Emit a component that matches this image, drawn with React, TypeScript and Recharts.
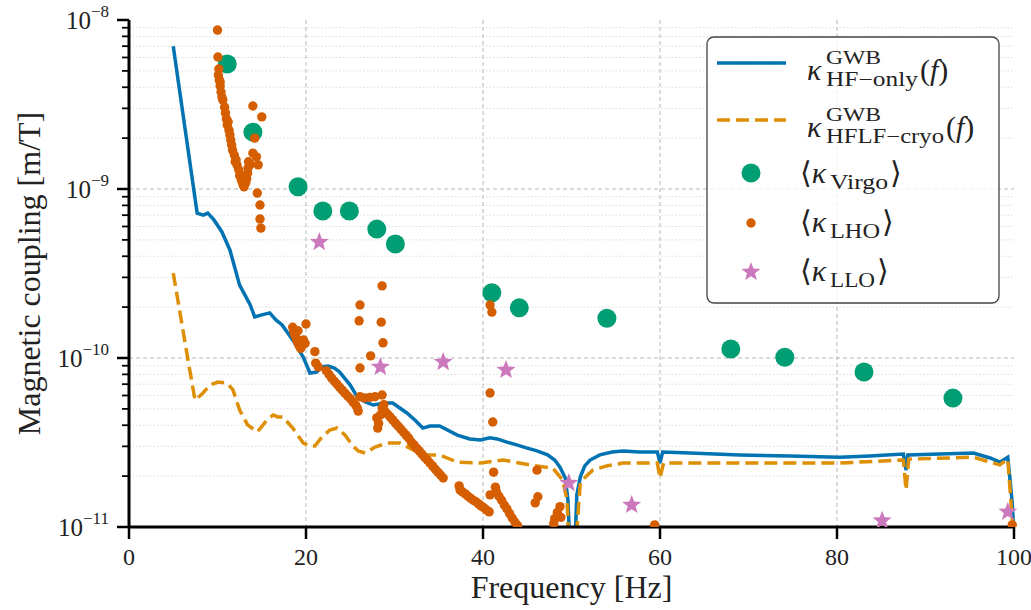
import { CartesianGrid, ComposedChart, Legend, Line, Scatter, XAxis, YAxis } from 'recharts';

const FONT = '"Liberation Serif", "Times New Roman", Tinos, "DejaVu Serif", "Noto Serif", FreeSerif, serif';

// projected coupling functions, [frequency Hz, coupling m/T]
const hfOnly: [number, number][] = [
  [5.0, 7.0e-9], [7.7, 7.2e-10], [8.4, 7.0e-10], [8.9, 7.2e-10], [9.6, 6.56e-10], [10.5, 5.57e-10],
  [11.4, 4.36e-10], [12.5, 2.7e-10], [13.7, 2.06e-10], [14.2, 1.75e-10], [15.0, 1.8e-10], [15.9, 1.85e-10],
  [16.6, 1.68e-10], [17.3, 1.57e-10], [18.5, 1.28e-10], [19.7, 1.01e-10], [20.45, 8.15e-11], [21.2, 8.26e-11],
  [21.8, 8.85e-11], [22.5, 8.97e-11], [23.2, 8.73e-11], [23.8, 8.26e-11], [25.0, 6.92e-11], [25.8, 5.87e-11],
  [26.7, 5.49e-11], [27.6, 5.27e-11], [28.9, 5.42e-11], [29.8, 5.42e-11], [30.6, 5.06e-11], [31.4, 4.73e-11],
  [32.3, 4.3e-11], [33.2, 3.85e-11], [34.0, 3.96e-11], [35.1, 3.96e-11], [37.1, 3.5e-11], [38.5, 3.32e-11],
  [39.7, 3.27e-11], [40.8, 3.37e-11], [41.6, 3.32e-11], [42.7, 3.18e-11], [43.8, 3.06e-11], [45.0, 2.93e-11],
  [46.1, 2.82e-11], [47.3, 2.67e-11], [48.1, 2.49e-11], [48.7, 2.26e-11], [49.3, 1.95e-11], [49.6, 1.44e-11],
  [49.8, 8e-12], [50.4, 8e-12], [50.6, 1.55e-11], [51.0, 1.98e-11], [51.5, 2.3e-11], [52.1, 2.49e-11],
  [53.2, 2.67e-11], [54.6, 2.78e-11], [55.8, 2.82e-11], [57.7, 2.78e-11], [59.7, 2.78e-11], [60.0, 2.39e-11],
  [60.3, 2.78e-11], [63.4, 2.74e-11], [69.0, 2.67e-11], [74.7, 2.63e-11], [80.3, 2.59e-11], [83.7, 2.63e-11],
  [87.5, 2.7e-11], [87.8, 2.17e-11], [88.0, 2.67e-11], [91.6, 2.7e-11], [95.4, 2.74e-11], [97.3, 2.56e-11],
  [98.4, 2.42e-11], [99.3, 2.59e-11], [99.8, 1.39e-11], [100, 9e-12],
];

const hflfCryo: [number, number][] = [
  [5.0, 3.18e-10], [6.67, 9.72e-11], [7.46, 5.63e-11], [8.36, 6.21e-11], [9.15, 6.92e-11], [10.06, 7.21e-11],
  [11.07, 7.11e-11], [11.75, 6.47e-11], [12.5, 4.92e-11], [13.4, 4.02e-11], [14.5, 3.65e-11], [15.6, 4.3e-11],
  [16.3, 4.6e-11], [16.8, 4.48e-11], [17.4, 4.48e-11], [18.5, 3.85e-11], [19.7, 3.14e-11], [20.45, 3.01e-11],
  [21.0, 3.01e-11], [21.8, 3.41e-11], [22.7, 3.75e-11], [23.5, 3.85e-11], [24.4, 3.5e-11], [25.2, 3.06e-11],
  [25.9, 2.82e-11], [26.7, 2.74e-11], [27.8, 2.97e-11], [29.2, 3.14e-11], [30.6, 3.14e-11], [32.1, 2.86e-11],
  [33.4, 2.67e-11], [35.1, 2.67e-11], [37.1, 2.42e-11], [39.7, 2.39e-11], [42.3, 2.49e-11], [45.3, 2.33e-11],
  [47.9, 2.23e-11], [49.0, 1.9e-11], [49.5, 1.44e-11], [49.7, 8e-12], [50.5, 8e-12], [51.0, 1.85e-11],
  [52.4, 2.17e-11], [54.0, 2.3e-11], [55.8, 2.39e-11], [59.7, 2.39e-11], [60.0, 1.95e-11], [60.4, 2.39e-11],
  [69.0, 2.39e-11], [80.3, 2.39e-11], [87.5, 2.49e-11], [87.8, 1.66e-11], [88.1, 2.52e-11], [95.4, 2.59e-11],
  [98.4, 2.33e-11], [99.3, 2.52e-11], [99.8, 1.1e-11], [100, 9e-12],
];

// measured couplings
const virgo: [number, number][] = [
  [11.1, 5.49e-9], [14.0, 2.17e-9], [19.1, 1.03e-9], [21.9, 7.41e-10], [24.9, 7.41e-10], [28.0, 5.79e-10],
  [30.1, 4.73e-10], [41.0, 2.43e-10], [44.1, 1.98e-10], [54.0, 1.72e-10], [68.0, 1.13e-10], [74.1, 1.01e-10],
  [83.05, 8.26e-11], [93.1, 5.79e-11],
];

const llo: [number, number][] = [
  [21.5, 4.85e-10], [28.4, 8.85e-11], [35.5, 9.46e-11], [42.6, 8.49e-11], [49.7, 1.82e-11], [56.8, 1.35e-11],
  [85.1, 1.09e-11], [99.3, 1.23e-11],
];

const lho: [number, number][] = [
  [10.0, 8.72e-9], [10.05, 6.04e-9], [10.15, 5.13e-9], [10.1, 4.73e-9],
  [10.2, 4.42e-9], [10.3, 4.07e-9], [10.4, 3.75e-9], [10.6, 3.36e-9], [10.8, 3.05e-9], [10.9, 2.82e-9],
  [11.0, 2.6e-9], [11.1, 2.39e-9], [11.3, 2.23e-9], [11.4, 2.09e-9], [11.5, 1.95e-9], [11.6, 1.82e-9],
  [11.7, 1.7e-9], [11.9, 1.59e-9], [12.1, 1.49e-9], [12.2, 1.39e-9], [12.4, 1.3e-9], [12.6, 1.21e-9],
  [12.7, 1.13e-9], [12.9, 1.06e-9], [13.0, 1.03e-9], [13.2, 1.09e-9], [13.3, 1.15e-9], [13.4, 1.24e-9],
  [13.45, 1.33e-9], [13.5, 1.45e-9], [13.7, 1.4e-9], [14.0, 1.63e-9], [14.4, 1.55e-9], [14.6, 1.39e-9],
  [10.3, 4.3e-9], [10.5, 3.5e-9], [11.2, 2.5e-9], [12.0, 1.45e-9], [12.5, 1.2e-9], [12.8, 1.1e-9],
  [14.0, 3.1e-9], [15.0, 2.67e-9], [14.2, 2.0e-9], [14.5, 9.46e-10], [14.8, 8.04e-10], [14.8, 6.64e-10],
  [14.9, 5.87e-10],
  [18.5, 1.52e-10], [18.6, 1.45e-10], [18.7, 1.38e-10], [18.9, 1.31e-10], [19.0, 1.25e-10], [19.2, 1.19e-10],
  [19.4, 1.14e-10], [19.6, 1.19e-10], [19.7, 1.28e-10], [19.9, 1.22e-10], [19.1, 1.45e-10], [20.0, 1.59e-10],
  [21.0, 1.09e-10], [21.1, 9.33e-11], [21.4, 8.85e-11],
  [22.3, 8.4e-11], [22.6, 8.0e-11], [22.9, 7.6e-11], [23.2, 7.3e-11], [23.5, 7.0e-11], [23.8, 6.7e-11],
  [24.1, 6.45e-11], [24.4, 6.2e-11], [24.7, 5.96e-11], [25.0, 5.75e-11], [25.3, 5.5e-11], [25.6, 5.27e-11],
  [25.8, 5.06e-11], [25.9, 4.85e-11],
  [26.1, 5.9e-11], [26.6, 5.8e-11], [27.2, 5.85e-11], [27.8, 5.9e-11], [28.0, 4.42e-11], [28.1, 3.85e-11],
  [28.6, 6.04e-11],
  [26.1, 2.06e-10], [26.0, 1.66e-10], [28.5, 1.63e-10], [28.6, 2.67e-10], [28.7, 1.23e-10], [27.3, 1.03e-10],
  [26.1, 8.73e-11],
  [28.2, 4.1e-11], [28.4, 4.6e-11], [28.8, 5.3e-11],
  [28.6, 5.06e-11], [28.9, 4.85e-11], [29.2, 4.66e-11], [29.5, 4.48e-11], [29.8, 4.3e-11], [30.1, 4.12e-11],
  [30.4, 3.96e-11], [30.7, 3.8e-11], [31.0, 3.65e-11], [31.3, 3.5e-11], [31.6, 3.36e-11], [31.9, 3.18e-11],
  [32.2, 3.06e-11], [32.5, 2.93e-11], [32.8, 2.82e-11], [33.1, 2.7e-11], [33.4, 2.59e-11], [33.7, 2.49e-11],
  [34.0, 2.39e-11], [34.3, 2.3e-11], [34.6, 2.2e-11], [34.9, 2.11e-11], [35.2, 2.03e-11], [35.5, 1.95e-11],
  [37.3, 1.75e-11], [37.4, 1.66e-11], [37.7, 1.61e-11], [38.0, 1.57e-11], [38.3, 1.52e-11], [38.6, 1.48e-11],
  [38.9, 1.44e-11], [39.2, 1.41e-11], [39.5, 1.37e-11], [39.8, 1.33e-11], [40.1, 1.3e-11], [40.4, 1.26e-11],
  [40.7, 1.23e-11],
  [40.8, 2.06e-10], [41.0, 1.87e-10], [40.8, 6.21e-11], [41.1, 4.18e-11], [41.2, 2.11e-11], [41.4, 1.72e-11],
  [40.8, 1.55e-11],
  [41.5, 1.62e-11], [41.8, 1.52e-11], [42.1, 1.44e-11], [42.4, 1.35e-11], [42.7, 1.28e-11], [43.0, 1.2e-11],
  [43.3, 1.13e-11], [43.6, 1.07e-11], [43.9, 1.02e-11],
  [46.1, 2.17e-11], [46.2, 1.51e-11], [45.9, 1.39e-11], [48.7, 1.32e-11], [48.1, 1.12e-11], [48.8, 1.14e-11],
  [48.4, 1.22e-11], [48.0, 1.05e-11],
  [59.4, 1.03e-11], [99.8, 1.03e-11],
];

const xTicks = [0, 20, 40, 60, 80, 100];
const xTickLabels = ['0', '20', '40', '60', '80', '100'];
const yDecades = [1e-11, 1e-10, 1e-9, 1e-8];
const yDecadeLabels = ['−11', '−10', '−9', '−8'];
const yMinors = [
  2e-11, 3e-11, 4e-11, 5e-11, 6e-11, 7e-11, 8e-11, 9e-11,
  2e-10, 3e-10, 4e-10, 5e-10, 6e-10, 7e-10, 8e-10, 9e-10,
  2e-9, 3e-9, 4e-9, 5e-9, 6e-9, 7e-9, 8e-9, 9e-9,
];
const yTicks = [...yDecades, ...yMinors].sort((a, b) => a - b);

const COLORS = {
  hfOnly: '#0173b2',
  cryo: '#de8f05',
  virgo: '#029e73',
  lho: '#d55e00',
  llo: '#cc78bc',
};

const rows = (pts: [number, number][]) => pts.map(([f, k]) => ({ f, k }));

function starPoints(cx: number, cy: number, R: number, r: number) {
  const pts: string[] = [];
  for (let i = 0; i < 10; i++) {
    const rad = i % 2 === 0 ? R : r;
    const a = -Math.PI / 2 + (i * Math.PI) / 5;
    pts.push(`${cx + rad * Math.cos(a)},${cy + rad * Math.sin(a)}`);
  }
  return pts.join(' ');
}

function YTick({ x, y, payload }: any) {
  const i = yDecades.indexOf(payload.value);
  const major = i >= 0;
  const len = major ? 12 : 7;
  return (
    <g>
      <line x1={x - len} x2={x} y1={y} y2={y} stroke="#000" strokeWidth={major ? 2.5 : 1.8} />
      {major && (
        <text x={x - 20} y={y + 9} textAnchor="end" fontFamily={FONT} fontSize={25} fill="#222">
          10<tspan dy={-12} fontSize={17}>{yDecadeLabels[i]}</tspan>
        </text>
      )}
    </g>
  );
}

function XTick({ x, y, payload }: any) {
  const i = xTicks.indexOf(payload.value);
  return (
    <g>
      <line x1={x} x2={x} y1={y} y2={y + 12} stroke="#000" strokeWidth={2.5} />
      <text x={x} y={y + 38} textAnchor="middle" fontFamily={FONT} fontSize={24} fill="#222">
        {xTickLabels[i]}
      </text>
    </g>
  );
}

// one math-style legend label: main symbol, stacked super/subscripts, trailing text
function MathLabel({ y, sup, sub, subW, tail, tailX, bracket }: any) {
  const t = { fontFamily: FONT, fill: '#222' };
  const sx = bracket ? 124 : 120;
  return (
    <g>
      <text x={bracket ? 94 : 101} y={y} fontSize={30} {...t}>
        {bracket ? '⟨' : ''}<tspan fontStyle="italic">κ</tspan>
      </text>
      {sup && <text x={sx} y={y - 16} fontSize={19} textLength={55} lengthAdjust="spacingAndGlyphs" {...t}>{sup}</text>}
      <text x={sx} y={y + (sup ? 6 : 6)} fontSize={20} textLength={subW} lengthAdjust="spacingAndGlyphs" {...t}>{sub}</text>
      <text x={tailX} y={y} fontSize={30} {...t}>{tail}</text>
    </g>
  );
}

function LegendBox() {
  return (
    <svg width={294} height={268} style={{ display: 'block' }}>
      <rect x={1} y={1} width={292} height={266} rx={7} fill="rgba(255,255,255,0.8)" stroke="#444" strokeWidth={1.3} />
      <line x1={11} x2={80} y1={27} y2={27} stroke={COLORS.hfOnly} strokeWidth={3.5} />
      <MathLabel y={44} sup="GWB" sub="HF−only" subW={92} tail={<>(<tspan fontStyle="italic">f</tspan>)</>} tailX={214} />

      <line x1={11} x2={80} y1={84} y2={84} stroke={COLORS.cryo} strokeWidth={3.5} strokeDasharray="13 6" />
      <MathLabel y={101} sup="GWB" sub="HFLF−cryo" subW={118} tail={<>(<tspan fontStyle="italic">f</tspan>)</>} tailX={240} />

      <circle cx={45} cy={137} r={9.5} fill={COLORS.virgo} />
      <MathLabel y={147} bracket sub="Virgo" subW={58} tail="⟩" tailX={184} />

      <circle cx={45} cy={187} r={4.7} fill={COLORS.lho} />
      <MathLabel y={196} bracket sub="LHO" subW={50} tail="⟩" tailX={176} />

      <polygon points={starPoints(45, 236, 10, 4.2)} fill={COLORS.llo} />
      <MathLabel y={245} bracket sub="LLO" subW={45} tail="⟩" tailX={171} />
    </svg>
  );
}

export default function App() {
  return (
    <div style={{ position: 'absolute', left: 0, top: 0, background: '#fff' }}>
      <ComposedChart width={1031} height={610} margin={{ top: 20, right: 17, left: 0, bottom: 0 }}>
        <CartesianGrid horizontal vertical={false} horizontalValues={yMinors} stroke="#dcdcdc" strokeDasharray="1.5 2" strokeWidth={1} />
        <CartesianGrid horizontalValues={[1e-10, 1e-9]} verticalValues={[20, 40, 60, 80]} stroke="#b8b8b8" strokeDasharray="4 3" strokeWidth={1} />
        <XAxis
          dataKey="f"
          type="number"
          domain={[0, 100]}
          ticks={xTicks}
          interval={0}
          height={83}
          tickSize={0}
          tickMargin={0}
          tickLine={false}
          tick={<XTick />}
          axisLine={{ stroke: '#000', strokeWidth: 3 }}
          label={{ value: 'Frequency [Hz]', position: 'insideBottom', offset: 12, style: { fontFamily: FONT, fontSize: 32, fill: '#222' } }}
        />
        <YAxis
          dataKey="k"
          scale="log"
          domain={[1e-11, 1e-8]}
          allowDataOverflow
          ticks={yTicks}
          interval={0}
          width={129}
          tickSize={0}
          tickMargin={0}
          tickLine={false}
          tick={<YTick />}
          axisLine={{ stroke: '#000', strokeWidth: 3 }}
          label={{
            content: ({ viewBox }: any) => {
              const cy = viewBox.y + viewBox.height / 2;
              return (
                <text x={40} y={cy} transform={`rotate(-90, 40, ${cy})`} textAnchor="middle" fontFamily={FONT} fontSize={32} fill="#222">
                  Magnetic coupling [m/T]
                </text>
              );
            },
          }}
        />
        <XAxis xAxisId="top" orientation="top" type="number" domain={[0, 100]} height={0} tick={false} tickLine={false} axisLine={{ stroke: '#000', strokeWidth: 3 }} />
        <YAxis yAxisId="right" orientation="right" type="number" domain={[0, 1]} width={0} tick={false} tickLine={false} axisLine={{ stroke: '#000', strokeWidth: 3 }} />

        <Line data={rows(hfOnly)} dataKey="k" type="linear" stroke={COLORS.hfOnly} strokeWidth={3.5} dot={false} isAnimationActive={false} />
        <Line data={rows(hflfCryo)} dataKey="k" type="linear" stroke={COLORS.cryo} strokeWidth={3.5} strokeDasharray="13 6" dot={false} isAnimationActive={false} />
        <Scatter
          data={rows(virgo)}
          dataKey="k"
          isAnimationActive={false}
          shape={(p: any) => <circle cx={p.cx} cy={p.cy} r={9.5} fill={COLORS.virgo} />}
        />
        <Scatter
          data={rows(lho)}
          dataKey="k"
          isAnimationActive={false}
          shape={(p: any) => <circle cx={p.cx} cy={p.cy} r={4.7} fill={COLORS.lho} />}
        />
        <Scatter
          data={rows(llo)}
          dataKey="k"
          isAnimationActive={false}
          shape={(p: any) => <polygon points={starPoints(p.cx, p.cy, 10, 4.2)} fill={COLORS.llo} />}
        />
        <Legend
          layout="vertical"
          align="center"
          verticalAlign="middle"
          wrapperStyle={{ left: 706, top: 36, width: 294, height: 268 }}
          content={() => <LegendBox />}
        />
      </ComposedChart>
    </div>
  );
}
